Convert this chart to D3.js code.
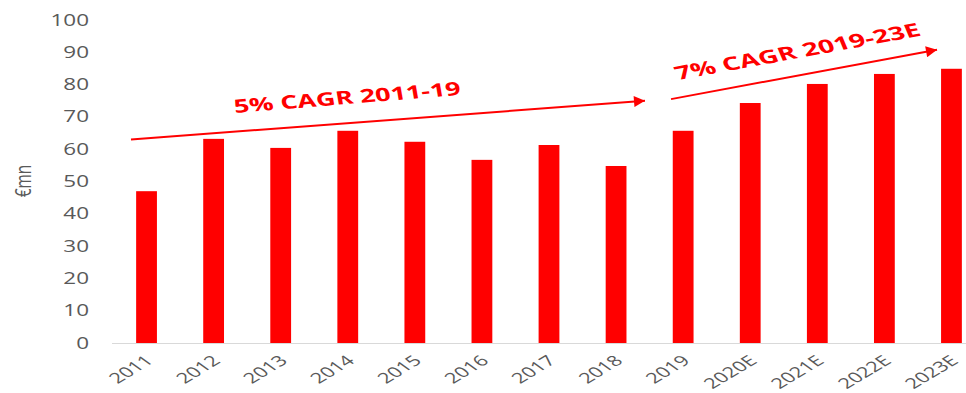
<!DOCTYPE html>
<html><head><meta charset="utf-8">
<script src="https://cdn.jsdelivr.net/npm/d3@7"></script>
<style>body{margin:0;background:#fff}svg{display:block}</style>
</head><body><svg id="c" width="966" height="393"></svg>
<script>
const categories = ["2011","2012","2013","2014","2015","2016","2017","2018","2019","2020E","2021E","2022E","2023E"];
const values = [47.0, 63.2, 60.4, 65.7, 62.3, 56.7, 61.3, 54.8, 65.7, 74.3, 80.2, 83.3, 84.9];
const yTicks = [0,10,20,30,40,50,60,70,80,90,100];
const yLabel = "€mn";
const annotations = ["5% CAGR 2011-19", "7% CAGR 2019-23E"];

const svg = d3.select("#c");
const SX = 1.5;
const x = d3.scaleBand().domain(categories).range([113, 985]).paddingInner(0.69).paddingOuter(0.345);
const y = d3.scaleLinear().domain([0,100]).range([343, 20]);
const red = "#ff0000";
const txtFont = "'Open Sans', sans-serif";

// bars
svg.append("g").selectAll("rect").data(categories).join("rect")
  .attr("x", d => x(d)).attr("width", x.bandwidth())
  .attr("y", (d,i) => y(values[i])).attr("height", (d,i) => y(0) - y(values[i]))
  .attr("fill", red);

// axis baseline
svg.append("line").attr("x1", 112).attr("x2", 966).attr("y1", y(0)+0.5).attr("y2", y(0)+0.5)
  .attr("stroke", "#d9d9d9").attr("stroke-width", 1);

// y tick labels
svg.append("g").selectAll("text").data(yTicks).join("text")
  .attr("transform", d => `translate(89,${y(d)+5.5}) scale(1.45,1)`)
  .attr("text-anchor", "end").attr("fill", "#595959")
  .style("font-family", txtFont).style("font-size", "15.5px")
  .text(d => d);

// x labels
svg.append("g").selectAll("text").data(categories).join("text")
  .attr("transform", d => `translate(${x(d)+x.bandwidth()/2+8},${y(0)+19}) scale(${SX},1) rotate(-42)`)
  .attr("text-anchor", "end").attr("fill", "#595959")
  .style("font-family", txtFont).style("font-size", "14.5px")
  .text(d => d);

// y label
svg.append("text").attr("transform", `translate(31,181) scale(1.45,1) rotate(-90)`)
  .attr("text-anchor", "middle").attr("fill", "#595959")
  .style("font-family", txtFont).style("font-size", "15.5px").text(yLabel);

// arrows
const defs = svg.append("defs");
defs.append("marker").attr("id","ah").attr("viewBox","0 0 10 10").attr("refX",10).attr("refY",5)
  .attr("markerWidth",8.5).attr("markerHeight",5.5).attr("markerUnits","strokeWidth").attr("orient","auto")
  .append("path").attr("d","M0,0L10,5L0,10Z").attr("fill", red);

const arrowPts = [
  [[131, y(63.0)], [645, y(75.0)]],
  [[671, y(75.5)], [937, y(90.8)]]
];
svg.append("g").selectAll("line").data(arrowPts).join("line")
  .attr("x1", d=>d[0][0]).attr("y1", d=>d[0][1]).attr("x2", d=>d[1][0]).attr("y2", d=>d[1][1])
  .attr("stroke", red).attr("stroke-width", 2).attr("marker-end","url(#ah)");

const labelPos = [
  {x:235, y:113, a:-6.7, s:1.46},
  {x:678, y:80, a:-15.5, s:1.52}
];
svg.append("g").selectAll("text").data(annotations).join("text")
  .attr("transform", (d,i) => `translate(${labelPos[i].x},${labelPos[i].y}) scale(${labelPos[i].s},1) rotate(${labelPos[i].a})`)
  .attr("fill", red).style("font-family", txtFont).style("font-weight","bold").style("font-size","18.5px")
  .text(d => d);
</script></body></html>
